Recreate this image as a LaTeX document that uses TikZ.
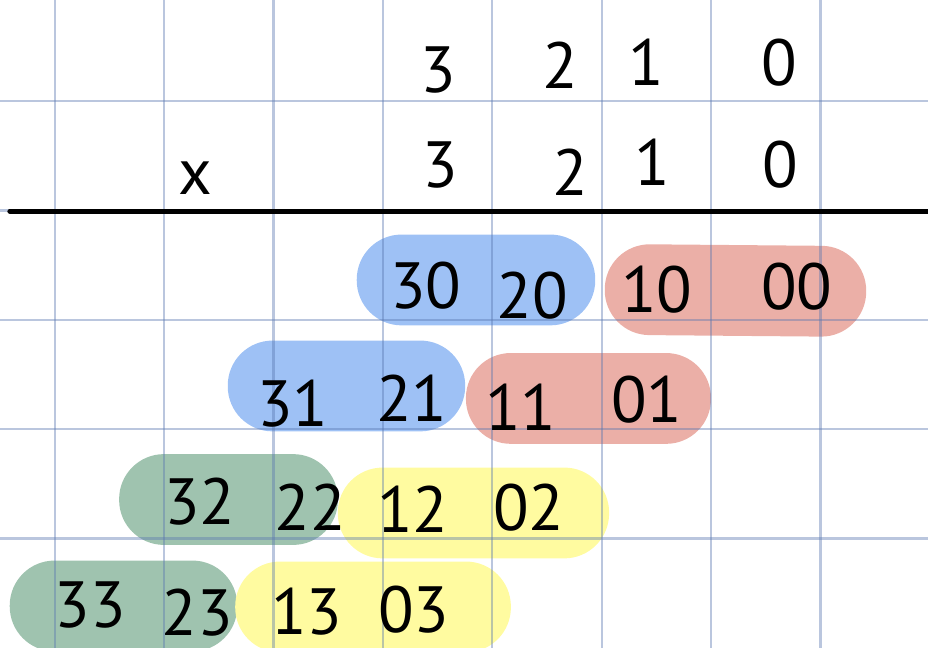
\documentclass[tikz,border=0pt]{standalone}
\usepackage{fontspec}
\setmainfont{PT Sans}
\usetikzlibrary{positioning}
\definecolor{gridblue}{HTML}{5A78B0}
\definecolor{pillblue}{HTML}{9EC1F5}
\definecolor{pillred}{HTML}{EBAFA7}
\definecolor{pillgreen}{HTML}{9FC3AF}
\definecolor{pillyellow}{HTML}{FFFBA0}

\begin{document}
\begin{tikzpicture}[every node/.style={font=\fontsize{17}{19}\selectfont}]
\tikzstyle{pill}=[rounded corners=0.41cm,minimum height=0.83cm,inner sep=0pt]
\tikzstyle{digit}=[inner sep=0pt]
\tikzstyle{gridline}=[gridblue,opacity=0.42,line width=0.6pt]
\useasboundingbox (0,0) rectangle (8.483,5.923);
% partial products
\node[pill,fill=pillblue,minimum width=2.18cm] (p30) at (4.351,3.364) {};
\node[pill,fill=pillred,minimum width=2.39cm,rotate=-0.5] (p10) at (6.723,3.268) {};
\node[pill,fill=pillblue,minimum width=2.17cm] (p31) at (3.167,2.395) {};
\node[pill,fill=pillred,minimum width=2.24cm] (p11) at (5.379,2.281) {};
\node[pill,fill=pillgreen,minimum width=2.00cm] (p32) at (2.089,1.357) {};
\node[pill,fill=pillyellow,minimum width=2.48cm] (p12) at (4.328,1.234) {};
\node[pill,fill=pillgreen,minimum width=2.08cm] (p33) at (1.129,0.384) {};
\node[pill,fill=pillyellow,minimum width=2.52cm] (p13) at (3.410,0.375) {};
% grid
\foreach \x in {0.5,1.5,...,7.5}
  \draw[gridline] (\x,0) -- (\x,5.923);
\foreach \y in {1,...,5}
  \draw[gridline] (0,\y) -- (8.483,\y);
\draw[line width=1.3pt,line cap=round] (0.09,3.994) -- (8.483,3.994);
% factors
\node[digit] (a3) at (4.004,5.283) {3};
\node[digit] (a2) at (5.119,5.329) {2};
\node[digit] (a1) at (5.905,5.356) {1};
\node[digit] (a0) at (7.121,5.347) {0};
\node[digit] (times) at (1.782,4.296) {x};
\node[digit] (b3) at (4.022,4.415) {3};
\node[digit] (b2) at (5.210,4.351) {2};
\node[digit] (b1) at (5.960,4.442) {1};
\node[digit] (b0) at (7.130,4.415) {0};
% pairs
\node[digit] (t30) at (3.894,3.309) {30};
\node[digit] (t20) at (4.863,3.217) {20};
\node[digit] (t10) at (6.005,3.272) {10};
\node[digit] (t00) at (7.285,3.300) {00};
\node[digit] (t31) at (2.678,2.230) {31};
\node[digit] (t21) at (3.766,2.285) {21};
\node[digit] (t11) at (4.762,2.203) {11};
\node[digit] (t01) at (5.914,2.267) {01};
\node[digit] (t32) at (1.828,1.334) {32};
\node[digit] (t22) at (2.834,1.289) {22};
\node[digit] (t12) at (3.775,1.270) {12};
\node[digit] (t02) at (4.835,1.280) {02};
\node[digit] (t33) at (0.823,0.395) {33};
\node[digit] (t23) at (1.801,0.325) {23};
\node[digit] (t13) at (2.806,0.335) {13};
\node[digit] (t03) at (3.784,0.350) {03};
\end{tikzpicture}
\end{document}
